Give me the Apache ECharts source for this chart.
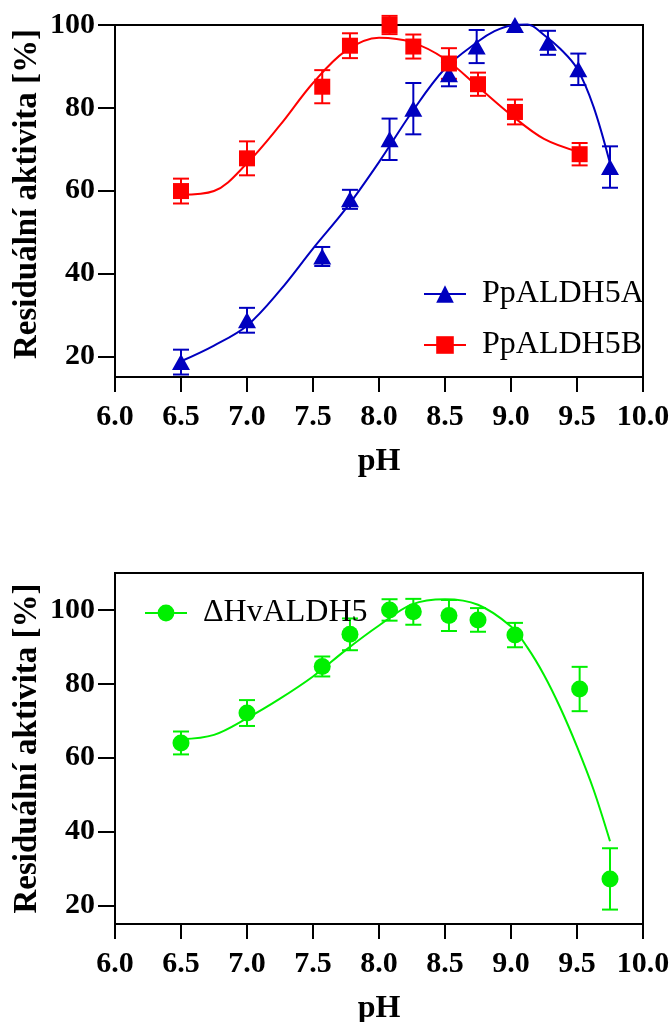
<!DOCTYPE html>
<html>
<head>
<meta charset="utf-8">
<script src="https://cdn.jsdelivr.net/npm/echarts@6/dist/echarts.min.js"></script>
<style>
  html, body { margin: 0; padding: 0; background: #fff; }
  #chart { width: 672px; height: 1022px; }
</style>
</head>
<body>
<div id="chart"></div>
<script>
// Axis ticks
const xTicks = [6.0, 6.5, 7.0, 7.5, 8.0, 8.5, 9.0, 9.5, 10.0];
const yTicks = [20, 40, 60, 80, 100];

// PpALDH5A – measured residual activity (mean, SD)
const phA  = [6.50, 7.00, 7.57, 7.78, 8.08, 8.26, 8.53, 8.74, 9.03, 9.28, 9.51, 9.75];
const actA = [18.6, 28.7, 44.1, 57.9, 72.4, 79.8, 88.1, 94.8, 100.0, 95.7, 89.3, 65.7];
const sdA  = [3.0, 3.0, 2.3, 2.3, 5.0, 6.2, 2.9, 4.0, 0, 2.9, 3.8, 5.0];

// PpALDH5B
const phB  = [6.50, 7.00, 7.57, 7.78, 8.08, 8.26, 8.53, 8.75, 9.03, 9.52];
const actB = [59.9, 67.8, 85.1, 95.0, 100.0, 94.8, 90.7, 85.7, 79.0, 68.8];
const sdB  = [3.0, 4.1, 4.0, 3.0, 2.2, 2.9, 3.7, 2.8, 3.0, 2.7];

// ΔHvALDH5
const phC  = [6.50, 7.00, 7.57, 7.78, 8.08, 8.26, 8.53, 8.75, 9.03, 9.52, 9.75];
const actC = [64.0, 72.1, 84.7, 93.4, 100.0, 99.5, 98.5, 97.3, 93.2, 78.6, 27.2];
const sdC  = [3.1, 3.5, 2.7, 4.3, 2.9, 3.5, 4.2, 3.2, 3.3, 6.0, 8.3];

// Fitted curves
const fitPhA = [6.50, 6.75, 7.00, 7.25, 7.50, 7.75, 8.00, 8.25, 8.50, 8.75, 8.875, 9.00, 9.125, 9.25, 9.375, 9.50, 9.625, 9.75];
const fitA   = [18.8, 22.6, 27.4, 35.9, 46.0, 55.7, 66.9, 79.0, 89.5, 96.0, 98.5, 99.9, 100.1, 97.6, 94.2, 89.5, 80.3, 66.6];

const fitPhB = [6.50, 6.75, 7.00, 7.25, 7.50, 7.75, 8.00, 8.25, 8.50, 8.75, 9.00, 9.25, 9.52];
const fitB   = [59.0, 59.9, 66.6, 75.8, 86.0, 93.8, 96.9, 95.8, 91.8, 85.1, 78.3, 72.5, 69.3];

const fitPhC = [6.50, 6.75, 7.00, 7.25, 7.50, 7.75, 8.00, 8.25, 8.50, 8.75, 9.00, 9.125, 9.25, 9.375, 9.50, 9.625, 9.75];
const fitC   = [65.0, 66.2, 70.7, 76.0, 82.0, 89.2, 95.8, 101.5, 102.9, 101.4, 95.5, 89.8, 82.4, 73.4, 63.0, 51.4, 37.4];

const BLUE = '#0000bf';
const RED = '#ff0000';
const GREEN = '#00f000';
const SERIF = "'Liberation Serif', 'Times New Roman', serif";

function pairs(xs, ys) { return xs.map((x, i) => [x, ys[i]]); }

function errorBars(name, xs, ys, sd, color, idx) {
  return {
    type: 'custom', name: name, xAxisIndex: idx, yAxisIndex: idx, silent: true, z: 3,
    data: xs.map((x, i) => [x, ys[i] - sd[i], ys[i] + sd[i]]),
    encode: { x: 0, y: [1, 2] },
    renderItem(params, api) {
      const x = api.value(0);
      if (api.value(2) - api.value(1) <= 0) return null;
      const lo = api.coord([x, api.value(1)]);
      const hi = api.coord([x, api.value(2)]);
      const h = 8;
      const st = { stroke: color, lineWidth: 2 };
      return {
        type: 'group',
        children: [
          { type: 'line', shape: { x1: lo[0], y1: lo[1], x2: hi[0], y2: hi[1] }, style: st },
          { type: 'line', shape: { x1: lo[0] - h, y1: lo[1], x2: lo[0] + h, y2: lo[1] }, style: st },
          { type: 'line', shape: { x1: hi[0] - h, y1: hi[1], x2: hi[0] + h, y2: hi[1] }, style: st }
        ]
      };
    }
  };
}

function points(name, xs, ys, symbol, size, color, idx) {
  return {
    type: 'scatter', name: name, xAxisIndex: idx, yAxisIndex: idx, silent: true, z: 4,
    clip: false, symbol: symbol, symbolSize: size,
    itemStyle: { color: color, opacity: 1 },
    data: pairs(xs, ys)
  };
}

function curve(name, xs, ys, symbol, color, idx) {
  return {
    type: 'line', name: name, xAxisIndex: idx, yAxisIndex: idx, silent: true, z: 2,
    clip: false, smooth: 0.35, showSymbol: false, symbol: symbol,
    lineStyle: { color: color, width: 2 }, itemStyle: { color: color },
    data: pairs(xs, ys)
  };
}

function xAxis(idx) {
  return {
    type: 'value', gridIndex: idx, min: 6, max: 10,
    name: 'pH', nameLocation: 'middle', nameGap: 69, nameMoveOverlap: false,
    nameTextStyle: { fontFamily: SERIF, fontWeight: 'bold', fontSize: 32, color: '#000' },
    axisLine: { show: true, onZero: false, lineStyle: { color: '#000', width: 2 } },
    axisTick: { show: true, length: 15, customValues: xTicks, lineStyle: { color: '#000', width: 2 } },
    axisLabel: {
      customValues: xTicks, margin: 25, color: '#000',
      fontFamily: SERIF, fontWeight: 'bold', fontSize: 30,
      formatter: v => Number(v).toFixed(1)
    },
    splitLine: { show: false }
  };
}

function yAxis(idx, max, shiftUp) {
  return {
    type: 'value', gridIndex: idx, min: 15, max: max,
    name: 'Residuální aktivita [%]', nameLocation: 'middle', nameGap: 71, nameMoveOverlap: false,
    nameTextStyle: {
      fontFamily: SERIF, fontWeight: 'bold', fontSize: 33, color: '#000',
      padding: [0, 0, 0, shiftUp * 2]
    },
    axisLine: { show: true, onZero: false, lineStyle: { color: '#000', width: 2 } },
    axisTick: { show: true, length: 17, customValues: yTicks, lineStyle: { color: '#000', width: 2 } },
    axisLabel: {
      customValues: yTicks, margin: 20, color: '#000',
      fontFamily: SERIF, fontWeight: 'bold', fontSize: 30
    },
    splitLine: { show: false }
  };
}

const legendText = { fontFamily: SERIF, fontSize: 32, color: '#000', padding: [0, 0, 0, 11] };

const gridBase = {
  show: true, borderColor: '#000', borderWidth: 2, backgroundColor: 'transparent',
  containLabel: false, outerBoundsMode: 'none'
};

const chart = echarts.init(document.getElementById('chart'), null, { renderer: 'canvas' });
chart.setOption({
  animation: false,
  backgroundColor: '#fff',
  grid: [
    Object.assign({ left: 115, top: 25, width: 528, height: 352 }, gridBase),
    Object.assign({ left: 115, top: 573, width: 528, height: 351 }, gridBase)
  ],
  xAxis: [xAxis(0), xAxis(1)],
  yAxis: [yAxis(0, 100, 7), yAxis(1, 110, 0)],
  legend: [
    {
      data: ['PpALDH5A', 'PpALDH5B'], orient: 'vertical', left: 418, top: 273,
      itemWidth: 42, itemHeight: 22, itemGap: 19, selectedMode: false,
      textStyle: legendText
    },
    {
      data: ['ΔHvALDH5'], orient: 'vertical', left: 139, top: 592,
      itemWidth: 42, itemHeight: 21, selectedMode: false,
      textStyle: legendText
    }
  ],
  series: [
    curve('PpALDH5A', fitPhA, fitA, 'triangle', BLUE, 0),
    curve('PpALDH5B', fitPhB, fitB, 'rect', RED, 0),
    errorBars('sdA', phA, actA, sdA, BLUE, 0),
    errorBars('sdB', phB, actB, sdB, RED, 0),
    points('ptsA', phA, actA, 'triangle', [18, 16], BLUE, 0),
    points('ptsB', phB, actB, 'rect', 16, RED, 0),
    curve('ΔHvALDH5', fitPhC, fitC, 'circle', GREEN, 1),
    errorBars('sdC', phC, actC, sdC, GREEN, 1),
    points('ptsC', phC, actC, 'circle', 17, GREEN, 1)
  ]
});
</script>
</body>
</html>
